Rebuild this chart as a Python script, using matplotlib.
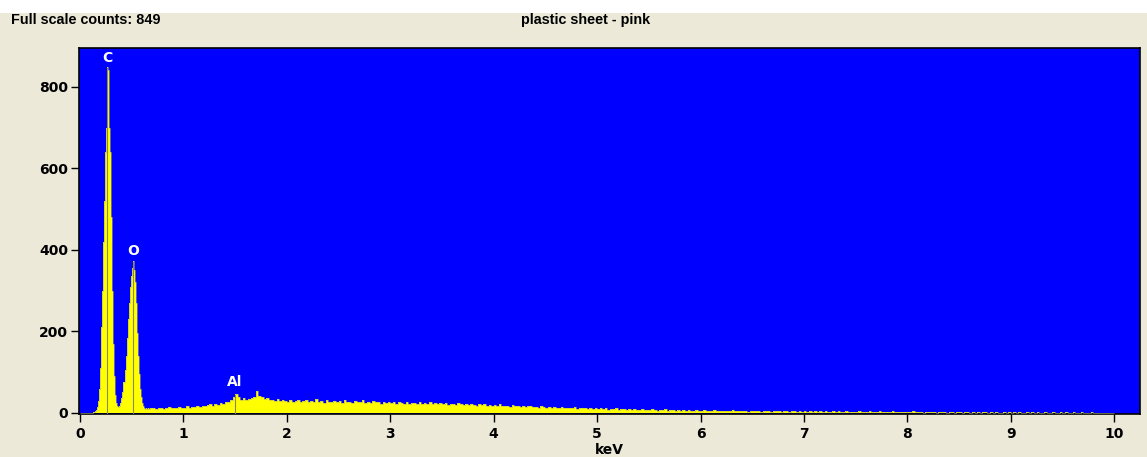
import numpy as np
import matplotlib
matplotlib.use("Agg")
import matplotlib.pyplot as plt
from matplotlib.patches import Rectangle

plt.rcParams['font.family'] = ['DejaVu Sans']

# spectrum, peak region 0.00 - 0.70 keV in 0.01 keV channels
peak_step = 0.01
peak_counts = [0, 0, 0, 0, 0, 0, 0, 0, 0, 0, 0, 0,
               0, 2, 4, 8, 15, 30, 60, 110, 210, 300,
               420, 520, 640, 700, 849, 840, 700, 640, 480, 300,
               170, 90, 45, 25, 16, 14,
               18, 25, 36, 52, 75, 105, 140, 185, 230, 270,
               310, 335, 355, 373, 350, 320, 270, 195, 140, 95,
               60, 38, 24, 16, 12, 10, 11, 9, 12, 10, 11, 13]

# background 0.70 - 10.00 keV in 0.025 keV channels
bg_start = 0.70
bg_step = 0.025
bg_counts = [12, 9, 11, 13, 10, 12, 14, 11, 13, 12, 15, 11,
             13, 16, 12, 15, 14, 17, 15, 18, 16, 19, 21, 18, 22, 20, 24, 22, 26, 28, 33, 40,
             46, 38, 33, 36, 31, 35, 37, 40, 54, 42, 38, 34, 36, 31, 33, 30, 34, 29, 32, 30,
             28, 31, 26, 30, 33, 27, 29, 32, 26, 30, 28, 34, 27, 29, 25, 31, 28, 26, 30, 27,
             29, 25, 32, 27, 28, 24, 30, 26, 28, 33, 25, 27, 24, 29, 26, 28, 23, 27, 25, 28,
             24, 27, 22, 26, 25, 23, 28, 22, 25, 24, 21, 26, 23, 25, 22, 27, 21, 24, 22, 25,
             21, 24, 20, 23, 22, 19, 24, 21, 20, 23, 19, 22, 20, 18, 22, 19, 21, 18, 20, 17,
             19, 17, 21, 16, 18, 17, 15, 19, 16, 18, 15, 17, 14, 16, 18, 14, 15, 13, 16, 14,
             13, 15, 12, 14, 13, 11, 14, 12, 13, 11, 12, 14, 10, 12, 11, 13, 10, 12, 9, 11,
             10, 12, 9, 11, 8, 10, 9, 11, 8, 9, 10, 7, 9, 8, 10, 7, 8, 9, 7, 8,
             7, 9, 8, 6, 8, 7, 9, 6, 7, 8, 6, 7, 5, 8, 6, 7, 5, 6, 7, 5,
             6, 7, 5, 6, 4, 7, 5, 6, 5, 4, 6, 5, 7, 4, 5, 6, 4, 5, 3, 5,
             5, 4, 6, 3, 5, 4, 5, 3, 4, 5, 4, 3, 5, 4, 3, 4, 5, 3, 4, 3,
             4, 3, 5, 3, 4, 2, 4, 3, 4, 3, 2, 4, 3, 5, 3, 2, 4, 3, 2, 3,
             3, 4, 2, 3, 2, 4, 3, 2, 3, 4, 2, 3, 2, 3, 4, 2, 3, 2, 3, 2,
             3, 2, 4, 2, 3, 2, 1, 3, 2, 3, 2, 1, 2, 3, 2, 1, 2, 3, 1, 2,
             2, 1, 2, 3, 1, 2, 1, 2, 1, 2, 3, 1, 2, 1, 2, 1, 1, 2, 1, 2,
             1, 2, 1, 2, 1, 1, 2, 1, 2, 1, 3, 1, 1, 2, 1, 1, 2, 1, 1, 2,
             1, 2, 1, 1, 2, 1, 1, 2, 1, 1, 1, 2, 1, 1, 1, 1, 0, 1, 0, 0]

# element markers
elements = ['C', 'O', 'Al']
element_kev = [0.265, 0.515, 1.495]
element_top = [845, 370, 45]
label_y = [870, 397, 75]

full_scale = 849
title = 'plastic sheet - pink'

peak_edges = np.arange(len(peak_counts) + 1) * peak_step
bg_edges = bg_start + np.arange(len(bg_counts) + 1) * bg_step
edges = np.concatenate([peak_edges[:-1], bg_edges])
counts = np.array(peak_counts + bg_counts)

W, H = 1147, 457
fig = plt.figure(figsize=(W / 100, H / 100), dpi=100)
fig.patch.set_facecolor('#ECE9D8')
fig.patches.append(Rectangle((0, 1 - 13 / H), 1, 13 / H, transform=fig.transFigure,
                             facecolor='white', edgecolor='none', zorder=0))

ax = fig.add_axes([79 / W, (H - 414) / H, (1140 - 79) / W, (414 - 48) / H])
ax.set_facecolor('#0000FF')
ax.stairs(counts, edges, fill=True, color='#FFFF00', zorder=2)
ax.stairs(counts, edges, color='#B4B45A', linewidth=0.4, zorder=3)

for el, e, top, ly in zip(elements, element_kev, element_top, label_y):
    ax.plot([e, e], [0, top], color='#8C8C50', linewidth=0.8, zorder=4)
    ax.text(e, ly, el, color='white', fontsize=10, fontweight='bold',
            ha='center', va='center', zorder=5)

ax.set_xlim(-0.01, 10.25)
ax.set_ylim(-2.5, 895)
ax.set_xticks(range(0, 11))
ax.set_yticks([0, 200, 400, 600, 800])
ax.tick_params(direction='out', length=6, width=1, color='black',
               labelsize=10, pad=2)
ax.tick_params(axis='x', pad=3)
for lab in ax.get_xticklabels() + ax.get_yticklabels():
    lab.set_fontweight('bold')
ax.set_xlabel('keV', fontsize=10, fontweight='bold', labelpad=2)
for s in ax.spines.values():
    s.set_color('black')
    s.set_linewidth(1.2)

tfont = ['Liberation Sans', 'DejaVu Sans']
fig.text(11 / W, 1 - 20 / H, 'Full scale counts: %d' % full_scale, fontsize=10.4,
         fontweight='bold', family=tfont, ha='left', va='center')
fig.text(586 / W, 1 - 20 / H, title, fontsize=10.4, fontweight='bold',
         family=tfont, ha='center', va='center')

fig.savefig('out.png', dpi=100, facecolor=fig.get_facecolor())
